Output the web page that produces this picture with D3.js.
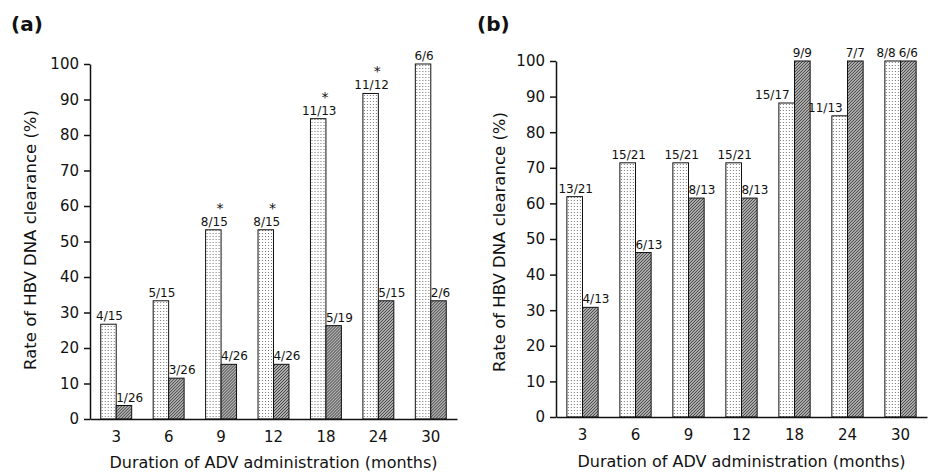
<!DOCTYPE html>
<html>
<head>
<meta charset="utf-8">
<script src="https://cdn.jsdelivr.net/npm/d3@7"></script>
<style>
    body { margin: 0; background: #fff; }
    svg text { font-family: "DejaVu Sans", sans-serif; fill: #111; }
</style>
</head>
<body>
<svg id="chart" width="930" height="472"></svg>
<script>
    const months = ["3", "6", "9", "12", "18", "24", "30"];
    const yTicks = [0, 10, 20, 30, 40, 50, 60, 70, 80, 90, 100];

    // panel (a)
    const aLight = [26.7, 33.3, 53.3, 53.3, 84.6, 91.7, 100];
    const aLightLabels = ["4/15", "5/15", "8/15", "8/15", "11/13", "11/12", "6/6"];
    const aDark = [3.8, 11.5, 15.4, 15.4, 26.3, 33.3, 33.3];
    const aDarkLabels = ["1/26", "3/26", "4/26", "4/26", "5/19", "5/15", "2/6"];
    const aStars = ["9", "12", "18", "24"];

    // panel (b)
    const bLight = [61.9, 71.4, 71.4, 71.4, 88.2, 84.6, 100];
    const bLightLabels = ["13/21", "15/21", "15/21", "15/21", "15/17", "11/13", "8/8"];
    const bDark = [30.8, 46.2, 61.5, 61.5, 100, 100, 100];
    const bDarkLabels = ["4/13", "6/13", "8/13", "8/13", "9/9", "7/7", "6/6"];
    const bStars = [];

    const svg = d3.select("svg#chart");

    // textures for the two series
    const defs = svg.append("defs");
    const dots = defs.append("pattern").attr("id", "dots")
        .attr("patternUnits", "userSpaceOnUse").attr("width", 3).attr("height", 3);
    dots.append("rect").attr("width", 3).attr("height", 3).attr("fill", "#fff");
    dots.append("rect").attr("x", 1).attr("y", 1).attr("width", 1).attr("height", 1).attr("fill", "#777");

    const hatch = defs.append("pattern").attr("id", "hatch")
        .attr("patternUnits", "userSpaceOnUse").attr("width", 3).attr("height", 3);
    hatch.append("rect").attr("width", 3).attr("height", 3).attr("fill", "#b0b0b0");
    hatch.append("path").attr("d", "M-1,1 L1,-1 M0,3 L3,0 M2,4 L4,2")
        .attr("stroke", "#333").attr("stroke-width", 0.9);

    function drawPanel(cfg) {
        const w = cfg.right - cfg.left;
        const h = cfg.bottom - cfg.top;
        const g = svg.append("g").attr("transform", `translate(${cfg.left},${cfg.top})`);

        const x0 = d3.scaleBand().domain(months).range([0, w])
            .paddingInner(0.41).paddingOuter(0.205);
        const x1 = d3.scaleBand().domain(["light", "dark"]).range([0, x0.bandwidth()]);
        const y = d3.scaleLinear().domain([0, 100]).range([h, 0]);

        const rows = months.map((m, i) => ({
            m: m, light: cfg.light[i], dark: cfg.dark[i],
            lightLabel: cfg.lightLabels[i], darkLabel: cfg.darkLabels[i]
        }));

        // bars
        const grp = g.selectAll("g.grp").data(rows).join("g").attr("class", "grp")
            .attr("transform", d => `translate(${x0(d.m)},0)`);
        grp.append("rect")
            .attr("x", x1("light")).attr("y", d => y(d.light))
            .attr("width", x1.bandwidth()).attr("height", d => y(0) - y(d.light))
            .attr("fill", "url(#dots)").attr("stroke", "#111").attr("stroke-width", 1);
        grp.append("rect")
            .attr("x", x1("dark")).attr("y", d => y(d.dark))
            .attr("width", x1.bandwidth()).attr("height", d => y(0) - y(d.dark))
            .attr("fill", "url(#hatch)").attr("stroke", "#111").attr("stroke-width", 1);

        // fraction labels
        grp.append("text")
            .attr("x", d => x1("light") + x1.bandwidth() / 2 + (d.dark >= d.light ? 3 : 1))
            .attr("y", d => y(d.light) - 4)
            .attr("text-anchor", d => d.dark >= d.light ? "end" : "middle")
            .style("font-size", "12px")
            .text(d => d.lightLabel);
        grp.append("text")
            .attr("x", d => d.dark >= d.light ? x1("dark") + x1.bandwidth() / 2 : x1("dark"))
            .attr("y", d => y(d.dark) - 4)
            .attr("text-anchor", d => d.dark >= d.light ? "middle" : "start")
            .style("font-size", "12px")
            .text(d => d.darkLabel);

        // significance stars
        grp.filter(d => cfg.stars.includes(d.m)).append("text")
            .attr("x", x1("light") + x1.bandwidth() - 1)
            .attr("y", d => y(d.light) - 17)
            .attr("text-anchor", "middle")
            .style("font-size", "14px")
            .text("*");

        // axes
        const leftAxis = d3.axisLeft(y).tickValues(yTicks)
            .tickSize(6).tickSizeOuter(0).tickPadding(5);
        const yG = g.append("g").call(leftAxis);
        const bottomAxis = d3.axisBottom(x0).tickSize(0).tickPadding(12);
        const xG = g.append("g").attr("transform", `translate(0,${h})`).call(bottomAxis);
        [yG, xG].forEach(a => {
            a.selectAll("path, line").attr("stroke", "#111").attr("stroke-width", 1.5);
            a.selectAll("text").style("font-size", "15px").attr("fill", "#111");
        });

        // titles
        g.append("text")
            .attr("x", w / 2).attr("y", cfg.xTitleY - cfg.top)
            .attr("text-anchor", "middle")
            .style("font-size", "16px")
            .text("Duration of ADV administration (months)");
        g.append("text")
            .attr("transform", `translate(${cfg.yTitleX - cfg.left},${cfg.yTitleMid - cfg.top}) rotate(-90)`)
            .attr("text-anchor", "middle")
            .style("font-size", "16.5px")
            .text("Rate of HBV DNA clearance (%)");
        svg.append("text")
            .attr("x", cfg.tagX).attr("y", 31)
            .style("font-size", "20px").style("font-weight", "bold")
            .text(cfg.tag);
    }

    drawPanel({
        left: 90, right: 457, top: 64, bottom: 419,
        light: aLight, dark: aDark, lightLabels: aLightLabels, darkLabels: aDarkLabels,
        stars: aStars, xTitleY: 468, yTitleX: 36, yTitleMid: 240, tag: "(a)", tagX: 11
    });
    drawPanel({
        left: 556, right: 927, top: 61, bottom: 417,
        light: bLight, dark: bDark, lightLabels: bLightLabels, darkLabels: bDarkLabels,
        stars: bStars, xTitleY: 467, yTitleX: 505, yTitleMid: 242, tag: "(b)", tagX: 477
    });
</script>
</body>
</html>
